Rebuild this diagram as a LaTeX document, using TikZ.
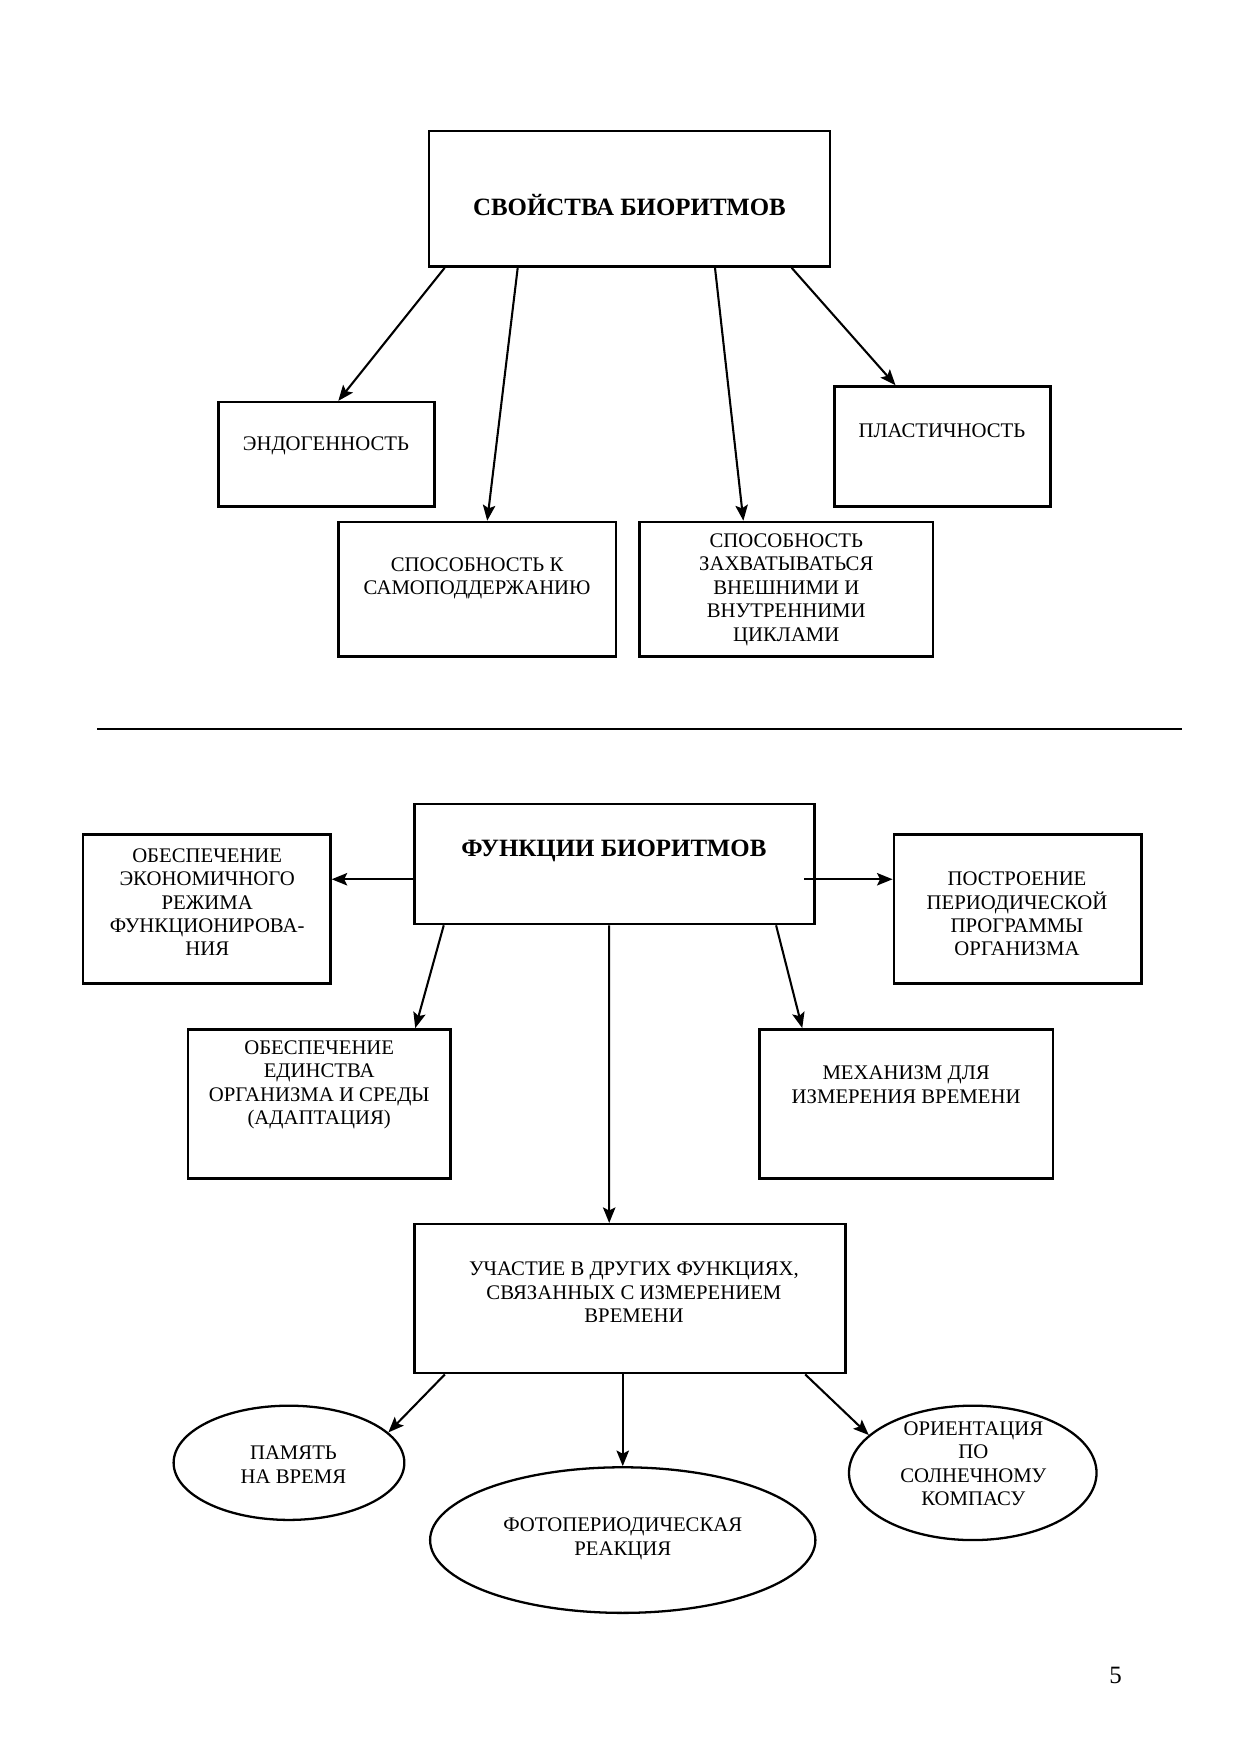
\documentclass[tikz,border=0pt]{standalone}
\usepackage{fontspec}
\setmainfont{Liberation Serif}
\usetikzlibrary{calc,arrows.meta,shapes.geometric}
\newcommand\pxu{0.1897mm}
\begin{document}
\begin{tikzpicture}[x=0.1897mm,y=-0.1897mm,
  box/.style={draw,line width=1.2pt,inner sep=0pt,rectangle},
  oval/.style={draw,line width=1.1pt,inner sep=0pt,ellipse},
  txt/.style={inner sep=0pt,align=center,font=\fontsize{10}{11.3}\selectfont},
  ttl/.style={inner sep=0pt,align=center,font=\fontsize{12}{14}\selectfont\bfseries},
  arr/.style={line width=1pt,-{Stealth[length=7.5pt,width=6pt,inset=1.5pt]}}]
\useasboundingbox (0,0) rectangle (1107,1566);
% ---------- upper part ----------
\node[box,minimum width=358*\pxu,minimum height=121*\pxu] (top) at (562,177.5) {};
\node[box,minimum width=193*\pxu,minimum height=93*\pxu] (endo) at (291.5,405.5) {};
\node[box,minimum width=248*\pxu,minimum height=120*\pxu] (samo) at (426,526) {};
\node[box,minimum width=262*\pxu,minimum height=120*\pxu] (zahv) at (702,526) {};
\node[box,minimum width=193*\pxu,minimum height=107*\pxu] (plast) at (841.5,398.5) {};
\node[ttl] (ttop) at (562,183) {СВОЙСТВА БИОРИТМОВ};
\node[txt] (tendo) at (291,398) {ЭНДОГЕННОСТЬ};
\node[txt] (tsamo) at (426,516.5) {СПОСОБНОСТЬ К\\САМОПОДДЕРЖАНИЮ};
\node[txt] (tzahv) at (702,526.5) {СПОСОБНОСТЬ\\ЗАХВАТЫВАТЬСЯ\\ВНЕШНИМИ И\\ВНУТРЕННИМИ\\ЦИКЛАМИ};
\node[txt] (tplast) at (841,385) {ПЛАСТИЧНОСТЬ};
\draw[arr] ($(top.south west)!0.042!(top.south east)$) -- ($(endo.north west)!0.554!(endo.north east)$);
\draw[arr] ($(top.south west)!0.223!(top.south east)$) -- ($(samo.north west)!0.536!(samo.north east)$);
\draw[arr] ($(top.south west)!0.712!(top.south east)$) -- ($(zahv.north west)!0.355!(zahv.north east)$);
\draw[arr] ($(top.south west)!0.902!(top.south east)$) -- ($(plast.north west)!0.285!(plast.north east)$);
% ---------- separator ----------
\coordinate (sepL) at (87,651);
\coordinate (sepR) at (1055,651);
\draw[line width=0.9pt] (sepL) -- (sepR);
% ---------- lower part ----------
\node[box,minimum width=357*\pxu,minimum height=107*\pxu] (fun) at (548.5,771.5) {};
\node[box,minimum width=221*\pxu,minimum height=133*\pxu] (eko) at (184.5,811.5) {};
\node[box,minimum width=221*\pxu,minimum height=133*\pxu] (post) at (908.5,811.5) {};
\node[box,minimum width=234*\pxu,minimum height=133*\pxu] (edin) at (285,985.5) {};
\node[box,minimum width=262*\pxu,minimum height=133*\pxu] (mech) at (809,985.5) {};
\node[box,minimum width=385*\pxu,minimum height=133*\pxu] (uch) at (562.5,1159.5) {};
\node[oval,minimum width=206*\pxu,minimum height=102*\pxu] (pam) at (258,1306) {};
\node[oval,minimum width=344*\pxu,minimum height=130*\pxu] (foto) at (556,1375) {};
\node[oval,minimum width=221*\pxu,minimum height=120*\pxu] (ori) at (868.5,1315) {};
\node[ttl] (tfun) at (548,760) {ФУНКЦИИ БИОРИТМОВ};
\node[txt] (teko) at (185,805.5) {ОБЕСПЕЧЕНИЕ\\ЭКОНОМИЧНОГО\\РЕЖИМА\\ФУНКЦИОНИРОВА-\\НИЯ};
\node[txt] (tpost) at (908,816) {ПОСТРОЕНИЕ\\ПЕРИОДИЧЕСКОЙ\\ПРОГРАММЫ\\ОРГАНИЗМА};
\node[txt] (tedin) at (285,968.5) {ОБЕСПЕЧЕНИЕ\\ЕДИНСТВА\\ОРГАНИЗМА И СРЕДЫ\\(АДАПТАЦИЯ)};
\node[txt] (tmech) at (809,968.5) {МЕХАНИЗМ ДЛЯ\\ИЗМЕРЕНИЯ ВРЕМЕНИ};
\node[txt] (tuch) at (566,1154) {УЧАСТИЕ В ДРУГИХ ФУНКЦИЯХ,\\СВЯЗАННЫХ С ИЗМЕРЕНИЕМ\\ВРЕМЕНИ};
\node[txt] (tpam) at (262,1307.5) {ПАМЯТЬ\\НА ВРЕМЯ};
\node[txt] (tfoto) at (556,1374) {ФОТОПЕРИОДИЧЕСКАЯ\\РЕАКЦИЯ};
\node[txt] (tori) at (869,1307) {ОРИЕНТАЦИЯ\\ПО\\СОЛНЕЧНОМУ\\КОМПАСУ};
\draw[arr] ([yshift=-13.5*\pxu]fun.west) -- ([yshift=-13.5*\pxu]fun.west -| eko.east);
\draw[arr] ([xshift=-10*\pxu,yshift=-13.5*\pxu]fun.east) -- ([yshift=-13.5*\pxu]fun.east -| post.west);
\draw[arr] ($(fun.south west)!0.076!(fun.south east)$) -- ($(edin.north west)!0.863!(edin.north east)$);
\draw[arr] ($(fun.south west)!0.902!(fun.south east)$) -- ($(mech.north west)!0.149!(mech.north east)$);
\draw[arr] ($(fun.south west)!0.487!(fun.south east)$) -- ($(uch.north west)!0.452!(uch.north east)$);
\draw[arr] ($(uch.south west)!0.073!(uch.south east)$) -- (pam.17);
\draw[arr] (uch.south -| foto.north) -- (foto.north);
\draw[arr] ($(uch.south west)!0.904!(uch.south east)$) -- (ori.160);
\node[inner sep=0pt,font=\fontsize{12}{14}\selectfont] (pnum) at (996,1496) {5};
\end{tikzpicture}
\end{document}
